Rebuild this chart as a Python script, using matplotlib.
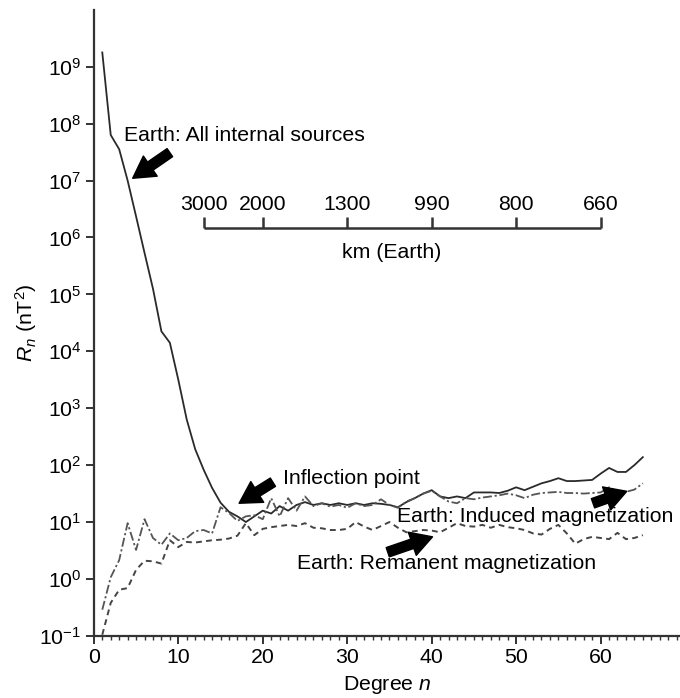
import numpy as np
import matplotlib
matplotlib.use("Agg")
import matplotlib.pyplot as plt

plt.rcParams['font.family'] = ['Liberation Sans', 'DejaVu Sans']
plt.rcParams['mathtext.fontset'] = 'custom'
plt.rcParams['mathtext.rm'] = 'Liberation Sans'
plt.rcParams['mathtext.it'] = 'Liberation Sans:italic'

# spherical harmonic degree
degree = np.arange(1, 66)

# log10 of R_n (nT^2)
total_log = [9.25, 7.8, 7.55, 7.0, 6.37, 5.73, 5.1, 4.35, 4.15, 3.5,
             2.8, 2.28, 1.92, 1.6, 1.34, 1.18, 1.1, 1.0, 1.1, 1.2,
             1.15, 1.28, 1.2, 1.3, 1.35, 1.3, 1.33, 1.3, 1.33, 1.3,
             1.33, 1.3, 1.33, 1.32, 1.3, 1.26, 1.35, 1.42, 1.5, 1.56,
             1.45, 1.42, 1.45, 1.42, 1.52, 1.52, 1.52, 1.51, 1.55, 1.61,
             1.56, 1.62, 1.68, 1.72, 1.77, 1.72, 1.72, 1.73, 1.74, 1.85,
             1.95, 1.88, 1.88, 2.0, 2.14]
induced_log = [-0.54, 0.03, 0.33, 0.98, 0.51, 1.05, 0.72, 0.6, 0.8, 0.68,
               0.72, 0.84, 0.86, 0.8, 1.26, 1.16, 1.02, 1.1, 1.12, 1.05,
               1.42, 1.1, 1.42, 1.2, 1.45, 1.28, 1.33, 1.27, 1.3, 1.25,
               1.33, 1.28, 1.3, 1.4, 1.3, 1.25, 1.36, 1.42, 1.5, 1.55,
               1.45, 1.36, 1.33, 1.42, 1.4, 1.43, 1.45, 1.47, 1.5, 1.47,
               1.42, 1.48, 1.51, 1.52, 1.53, 1.51, 1.51, 1.5, 1.51, 1.52,
               1.61, 1.53, 1.53, 1.57, 1.68]
remanent_log = [-0.98, -0.42, -0.19, -0.16, 0.16, 0.32, 0.31, 0.27, 0.68, 0.56,
                0.65, 0.64, 0.66, 0.68, 0.69, 0.71, 0.76, 0.98, 0.77, 0.88,
                0.91, 0.93, 0.95, 0.93, 0.98, 0.9, 0.89, 0.86, 0.86, 0.88,
                1.0, 0.92, 0.86, 0.93, 1.0, 0.9, 0.82, 0.84, 0.86, 0.85,
                0.82, 0.9, 0.98, 0.93, 0.92, 0.95, 0.9, 0.95, 0.91, 0.89,
                0.86, 0.8, 0.78, 0.88, 0.95, 0.8, 0.62, 0.7, 0.74, 0.72,
                0.7, 0.81, 0.7, 0.72, 0.77]

# wavelength scale (km on Earth) against degree
scale_deg = [13, 20, 30, 40, 50, 60]
scale_km = ['3000', '2000', '1300', '990', '800', '660']

FS = 15.3

fig = plt.figure(figsize=(6.8, 6.98), dpi=100)
ax = fig.add_axes([0.138, 0.089, 0.862, 0.897])

ax.plot(degree, 10 ** np.array(total_log), color='#2a2a2a', lw=1.3, ls='-')
ax.plot(degree, 10 ** np.array(induced_log), color='#555555', lw=1.3,
        ls=(0, (5, 1.5, 1.2, 1.5)))
ax.plot(degree, 10 ** np.array(remanent_log), color='#444444', lw=1.4,
        ls=(0, (3, 2.2)))

ax.set_yscale('log')
ax.set_ylim(1e-1, 1e10)
ax.set_xlim(0, 69.4)
ax.set_yticks([10.0 ** k for k in range(-1, 10)])
ax.yaxis.set_minor_locator(matplotlib.ticker.NullLocator())
ax.set_xticks([0, 10, 20, 30, 40, 50, 60])
ax.xaxis.set_minor_locator(matplotlib.ticker.MultipleLocator(1))

for s in ['top', 'right']:
    ax.spines[s].set_visible(False)
for s in ['left', 'bottom']:
    ax.spines[s].set_linewidth(1.6)
    ax.spines[s].set_color('#333333')
ax.tick_params(which='major', length=6, width=1.4, color='#333333', labelsize=FS, pad=3)
ax.tick_params(which='minor', length=3, width=1.0, color='#333333')

ax.set_xlabel('Degree $n$', fontsize=FS, labelpad=5)
ax.set_ylabel('$R_n$ (nT$^2$)', fontsize=FS, labelpad=0)

# km scale bar
bar_y = 10 ** 6.16
tick_top = 10 ** 6.36
ax.plot([scale_deg[0], scale_deg[-1]], [bar_y, bar_y], color='#333333', lw=1.8,
        solid_capstyle='butt')
for d, lab in zip(scale_deg, scale_km):
    ax.plot([d, d], [bar_y, tick_top], color='#333333', lw=1.8, solid_capstyle='butt')
    ax.text(d, 10 ** 6.58, lab, ha='center', va='center', fontsize=FS)
ax.text(35.3, 10 ** 5.74, 'km (Earth)', ha='center', va='center', fontsize=FS)

# labels and arrows
arrow = dict(arrowstyle='simple,head_length=0.7,head_width=0.8,tail_width=0.32',
             color='black', shrinkA=0, shrinkB=0, mutation_scale=22)
ax.text(3.55, 10 ** 7.79, 'Earth: All internal sources', ha='left', va='center', fontsize=FS)
ax.annotate('', xy=(4.6, 10 ** 7.04), xytext=(9.0, 10 ** 7.49), arrowprops=arrow)
ax.text(22.4, 10 ** 1.77, 'Inflection point', ha='left', va='center', fontsize=FS)
ax.annotate('', xy=(17.2, 10 ** 1.33), xytext=(21.2, 10 ** 1.70), arrowprops=arrow)
ax.text(35.9, 10 ** 1.09, 'Earth: Induced magnetization', ha='left', va='center', fontsize=FS)
ax.annotate('', xy=(63.1, 10 ** 1.54), xytext=(59.1, 10 ** 1.33), arrowprops=arrow)
ax.text(24.1, 10 ** 0.28, 'Earth: Remanent magnetization', ha='left', va='center', fontsize=FS)
ax.annotate('', xy=(40.1, 10 ** 0.74), xytext=(34.8, 10 ** 0.47), arrowprops=arrow)

fig.savefig('out.png', dpi=100)
